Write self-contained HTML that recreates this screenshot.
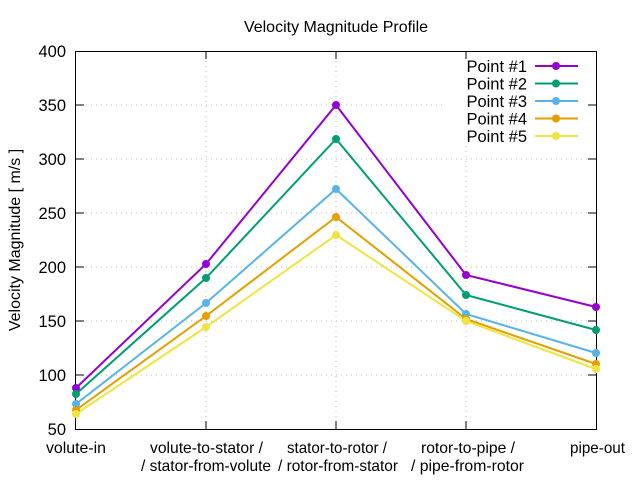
<!DOCTYPE html>
<html><head><meta charset="utf-8"><style>
html,body{margin:0;padding:0;background:#fff}
svg{display:block;font-family:"Liberation Sans",Arial,sans-serif}
</style></head><body>
<svg width="640" height="480" viewBox="0 0 640 480" xmlns="http://www.w3.org/2000/svg">
<rect width="640" height="480" fill="#fff"/>
<g stroke="#bbb" stroke-width="1" stroke-dasharray="1,4">
<line x1="76" y1="105" x2="596" y2="105"/><line x1="76" y1="159" x2="596" y2="159"/>
<line x1="76" y1="213" x2="596" y2="213"/><line x1="76" y1="267" x2="596" y2="267"/>
<line x1="76" y1="321" x2="596" y2="321"/><line x1="76" y1="375" x2="596" y2="375"/>
<line x1="206" y1="51" x2="206" y2="429"/><line x1="336" y1="51" x2="336" y2="429"/>
<line x1="466" y1="51" x2="466" y2="429"/>
</g>
<rect x="443" y="57" width="145" height="86" fill="#fff"/>
<g stroke="#000" stroke-width="1">
<rect x="75.5" y="51.5" width="521" height="378" fill="none"/>
<line x1="76" y1="105" x2="84" y2="105"/><line x1="76" y1="159" x2="84" y2="159"/><line x1="76" y1="213" x2="84" y2="213"/><line x1="76" y1="267" x2="84" y2="267"/><line x1="76" y1="321" x2="84" y2="321"/><line x1="76" y1="375" x2="84" y2="375"/>
<line x1="596" y1="105" x2="588" y2="105"/><line x1="596" y1="159" x2="588" y2="159"/><line x1="596" y1="213" x2="588" y2="213"/><line x1="596" y1="267" x2="588" y2="267"/><line x1="596" y1="321" x2="588" y2="321"/><line x1="596" y1="375" x2="588" y2="375"/>
<line x1="206" y1="429" x2="206" y2="421"/><line x1="336" y1="429" x2="336" y2="421"/><line x1="466" y1="429" x2="466" y2="421"/>
<line x1="206" y1="51" x2="206" y2="59"/><line x1="336" y1="51" x2="336" y2="59"/><line x1="466" y1="51" x2="466" y2="59"/>
</g>
<g font-size="16.5" fill="#000" text-anchor="end">
<text x="66" y="57">400</text><text x="66" y="111">350</text><text x="66" y="165">300</text><text x="66" y="219">250</text><text x="66" y="273">200</text><text x="66" y="327">150</text><text x="66" y="381">100</text><text x="66" y="435">50</text>
</g>
<g font-size="16" fill="#000" lengthAdjust="spacingAndGlyphs">
<text x="46" y="453" textLength="60" lengthAdjust="spacingAndGlyphs">volute-in</text>
<text x="150" y="453" textLength="113" lengthAdjust="spacingAndGlyphs">volute-to-stator /</text>
<text x="141" y="471" textLength="130" lengthAdjust="spacingAndGlyphs">/ stator-from-volute</text>
<text x="287" y="453" textLength="100" lengthAdjust="spacingAndGlyphs">stator-to-rotor /</text>
<text x="278" y="471" textLength="120" lengthAdjust="spacingAndGlyphs">/ rotor-from-stator</text>
<text x="421" y="453" textLength="94" lengthAdjust="spacingAndGlyphs">rotor-to-pipe /</text>
<text x="411" y="471" textLength="113" lengthAdjust="spacingAndGlyphs">/ pipe-from-rotor</text>
<text x="570" y="453" textLength="55" lengthAdjust="spacingAndGlyphs">pipe-out</text>
</g>
<text x="336" y="32" font-size="16" text-anchor="middle">Velocity Magnitude Profile</text>
<text transform="translate(20,240) rotate(-90)" font-size="16" text-anchor="middle">Velocity Magnitude [ m/s ]</text>
<g stroke-width="2" fill="none">
<polyline stroke="#9400d3" points="76,388 206,264 336,105 466,275 596,307"/>
<polyline stroke="#009e73" points="76,394 206,278 336,139 466,295 596,330"/>
<polyline stroke="#56b4e9" points="76,404 206,303 336,189 466,314 596,353"/>
<polyline stroke="#e69f00" points="76,410 206,316 336,217 466,319 596,364"/>
<polyline stroke="#f0e442" points="76,414 206,327 336,235 466,321 596,369"/>
</g>
<g>
<g fill="#9400d3"><circle cx="76" cy="388" r="4"/><circle cx="206" cy="264" r="4"/><circle cx="336" cy="105" r="4"/><circle cx="466" cy="275" r="4"/><circle cx="596" cy="307" r="4"/></g>
<g fill="#009e73"><circle cx="76" cy="394" r="4"/><circle cx="206" cy="278" r="4"/><circle cx="336" cy="139" r="4"/><circle cx="466" cy="295" r="4"/><circle cx="596" cy="330" r="4"/></g>
<g fill="#56b4e9"><circle cx="76" cy="404" r="4"/><circle cx="206" cy="303" r="4"/><circle cx="336" cy="189" r="4"/><circle cx="466" cy="314" r="4"/><circle cx="596" cy="353" r="4"/></g>
<g fill="#e69f00"><circle cx="76" cy="410" r="4"/><circle cx="206" cy="316" r="4"/><circle cx="336" cy="217" r="4"/><circle cx="466" cy="319" r="4"/><circle cx="596" cy="364" r="4"/></g>
<g fill="#f0e442"><circle cx="76" cy="414" r="4"/><circle cx="206" cy="327" r="4"/><circle cx="336" cy="235" r="4"/><circle cx="466" cy="321" r="4"/><circle cx="596" cy="369" r="4"/></g>
</g>
<g font-size="16.5" text-anchor="end" fill="#000">
<text x="527" y="72">Point #1</text><text x="527" y="89.5">Point #2</text><text x="527" y="107">Point #3</text><text x="527" y="124.5">Point #4</text><text x="527" y="142">Point #5</text>
</g>
<g stroke-width="2">
<line x1="535" y1="66" x2="578" y2="66" stroke="#9400d3"/><circle cx="556" cy="66" r="4" fill="#9400d3"/>
<line x1="535" y1="83.5" x2="578" y2="83.5" stroke="#009e73"/><circle cx="556" cy="83.5" r="4" fill="#009e73"/>
<line x1="535" y1="101" x2="578" y2="101" stroke="#56b4e9"/><circle cx="556" cy="101" r="4" fill="#56b4e9"/>
<line x1="535" y1="118.5" x2="578" y2="118.5" stroke="#e69f00"/><circle cx="556" cy="118.5" r="4" fill="#e69f00"/>
<line x1="535" y1="136" x2="578" y2="136" stroke="#f0e442"/><circle cx="556" cy="136" r="4" fill="#f0e442"/>
</g>
</svg>
</body></html>
